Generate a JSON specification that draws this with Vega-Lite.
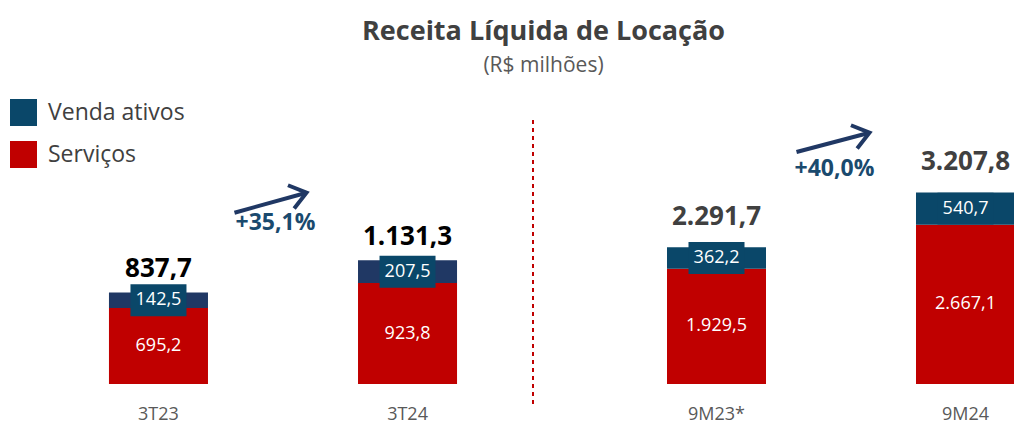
{
  "$schema": "https://vega.github.io/schema/vega-lite/v6.json",
  "padding": {"left": 10, "top": 18, "right": 0, "bottom": 0},
  "background": "white",
  "bounds": "flush",
  "title": {
    "text": "Receita Líquida de Locação",
    "subtitle": "(R$ milhões)",
    "fontSize": 27,
    "fontWeight": "bold",
    "color": "#404040",
    "subtitleFontSize": 21,
    "subtitleColor": "#595959",
    "subtitlePadding": 9,
    "anchor": "middle",
    "offset": 22,
    "dx": 31
  },
  "datasets": {
    "receita": [
      {"grupo": "3T", "periodo": "3T23", "serie": "Serviços", "valor": 695.2},
      {"grupo": "3T", "periodo": "3T23", "serie": "Venda ativos", "valor": 142.5},
      {"grupo": "3T", "periodo": "3T24", "serie": "Serviços", "valor": 923.8},
      {"grupo": "3T", "periodo": "3T24", "serie": "Venda ativos", "valor": 207.5},
      {"grupo": "9M", "periodo": "9M23*", "serie": "Serviços", "valor": 1929.5},
      {"grupo": "9M", "periodo": "9M23*", "serie": "Venda ativos", "valor": 362.2},
      {"grupo": "9M", "periodo": "9M24", "serie": "Serviços", "valor": 2667.1},
      {"grupo": "9M", "periodo": "9M24", "serie": "Venda ativos", "valor": 540.7}
    ],
    "variacao": [
      {"grupo": "3T", "texto": "+35,1%"},
      {"grupo": "9M", "texto": "+40,0%"}
    ]
  },
  "spacing": 134,
  "resolve": {"scale": {"color": "independent"}, "legend": {"color": "independent"}},
  "hconcat": [
    {
      "width": 500,
      "height": 283,
      "layer": [
        {
          "data": {"name": "receita"},
          "transform": [
            {"filter": "datum.grupo == '3T'"},
            {"stack": "valor", "groupby": ["periodo"], "sort": [{"field": "serie", "order": "ascending"}], "as": ["v0", "v1"]},
            {"calculate": "(datum.v0 + datum.v1) / 2", "as": "meio"},
            {"joinaggregate": [{"op": "sum", "field": "valor", "as": "total"}], "groupby": ["periodo"]}
          ],
          "encoding": {
            "x": {"field": "periodo", "type": "nominal", "scale": {"paddingInner": 0.6024, "paddingOuter": 0.305}, "axis": {"title": null, "labelAngle": 0, "domain": false, "ticks": false, "labelPadding": 21, "labelFontSize": 18, "labelColor": "#595959"}}
          },
          "layer": [
            {
              "mark": {"type": "bar"},
              "encoding": {
                "y": {"field": "v0", "type": "quantitative", "scale": {"domain": [0, 2589], "nice": false}, "axis": null},
                "y2": {"field": "v1"},
                "color": {"field": "serie", "type": "nominal", "scale": {"domain": ["Venda ativos", "Serviços"], "range": ["#203864", "#c00000"]}, "legend": null}
              }
            },
            {
              "transform": [{"filter": "datum.serie == 'Venda ativos'"}],
              "mark": {"type": "point", "shape": "M-1,-0.571L1,-0.571L1,0.571L-1,0.571Z", "filled": true, "opacity": 1, "color": "#0a4769", "size": 3136, "strokeWidth": 0},
              "encoding": {"y": {"field": "meio", "type": "quantitative"}}
            },
            {
              "mark": {"type": "text", "color": "white", "fontSize": 18, "baseline": "middle"},
              "encoding": {
                "y": {"field": "meio", "type": "quantitative"},
                "text": {"field": "valor", "type": "quantitative", "format": ",.1f"}
              }
            },
            {
              "transform": [{"filter": "datum.serie == 'Serviços'"}],
              "mark": {"type": "text", "color": "#000000", "fontSize": 26, "fontWeight": "bold", "baseline": "alphabetic", "dy": -15},
              "encoding": {
                "y": {"field": "total", "type": "quantitative"},
                "text": {"field": "total", "type": "quantitative", "format": ",.1f"}
              }
            }
          ]
        },
        {
          "data": {"name": "variacao"},
          "transform": [{"filter": "datum.grupo == '3T'"}],
          "layer": [
            {
              "mark": {"type": "rule", "color": "#c00000", "strokeWidth": 2, "strokeDash": [4, 4]},
              "encoding": {"x": {"value": "width"}, "y": {"datum": 2415}, "y2": {"datum": -201}}
            },
            {
              "mark": {"type": "rule", "color": "#203864", "strokeWidth": 4, "xOffset": 76, "x2Offset": -101},
              "encoding": {
                "x": {"datum": "3T23", "type": "nominal"},
                "x2": {"datum": "3T24"},
                "y": {"datum": 1567, "type": "quantitative"},
                "y2": {"datum": 1750}
              }
            },
            {
              "mark": {"type": "point", "shape": "M-1,-0.75L0,0L-1,0.75", "filled": false, "color": "#203864", "strokeWidth": 4, "size": 1024, "angle": -15, "opacity": 1, "xOffset": -101},
              "encoding": {
                "x": {"datum": "3T24", "type": "nominal"},
                "y": {"datum": 1750, "type": "quantitative"}
              }
            },
            {
              "mark": {"type": "text", "color": "#1a4a6e", "fontSize": 23, "fontWeight": "bold", "baseline": "middle", "xOffset": 117},
              "encoding": {
                "x": {"datum": "3T23", "type": "nominal"},
                "y": {"datum": 1473, "type": "quantitative"},
                "text": {"field": "texto", "type": "nominal"}
              }
            }
          ]
        }
      ]
    },
    {
      "width": 348,
      "height": 283,
      "layer": [
        {
          "data": {"name": "receita"},
          "transform": [
            {"filter": "datum.grupo == '9M'"},
            {"stack": "valor", "groupby": ["periodo"], "sort": [{"field": "serie", "order": "ascending"}], "as": ["v0", "v1"]},
            {"calculate": "(datum.v0 + datum.v1) / 2", "as": "meio"},
            {"joinaggregate": [{"op": "sum", "field": "valor", "as": "total"}], "groupby": ["periodo"]}
          ],
          "encoding": {
            "x": {"field": "periodo", "type": "nominal", "scale": {"paddingInner": 0.6024, "paddingOuter": 0}, "axis": {"title": null, "labelAngle": 0, "domain": false, "ticks": false, "labelPadding": 21, "labelFontSize": 18, "labelColor": "#595959"}}
          },
          "layer": [
            {
              "mark": {"type": "bar"},
              "encoding": {
                "y": {"field": "v0", "type": "quantitative", "scale": {"domain": [0, 4740], "nice": false}, "axis": null},
                "y2": {"field": "v1"},
                "color": {"field": "serie", "type": "nominal", "scale": {"domain": ["Venda ativos", "Serviços"], "range": ["#0a4769", "#c00000"]},
                  "legend": {"orient": "none", "legendX": -657, "legendY": -2, "title": null, "symbolType": "square", "symbolSize": 729, "symbolStrokeWidth": 0, "labelFontSize": 23, "labelColor": "#404040", "labelOffset": 11, "rowPadding": 15, "padding": 0}}
              }
            },
            {
              "transform": [{"filter": "datum.serie == 'Venda ativos'"}],
              "mark": {"type": "point", "shape": "M-1,-0.571L1,-0.571L1,0.571L-1,0.571Z", "filled": true, "opacity": 1, "color": "#0a4769", "size": 3136, "strokeWidth": 0},
              "encoding": {"y": {"field": "meio", "type": "quantitative"}}
            },
            {
              "mark": {"type": "text", "color": "white", "fontSize": 18, "baseline": "middle"},
              "encoding": {
                "y": {"field": "meio", "type": "quantitative"},
                "text": {"field": "valor", "type": "quantitative", "format": ",.1f"}
              }
            },
            {
              "transform": [{"filter": "datum.serie == 'Serviços'"}],
              "mark": {"type": "text", "color": "#404040", "fontSize": 26, "fontWeight": "bold", "baseline": "alphabetic", "dy": -22},
              "encoding": {
                "y": {"field": "total", "type": "quantitative"},
                "text": {"field": "total", "type": "quantitative", "format": ",.1f"}
              }
            }
          ]
        },
        {
          "data": {"name": "variacao"},
          "transform": [{"filter": "datum.grupo == '9M'"}],
          "layer": [
            {
              "mark": {"type": "rule", "color": "#203864", "strokeWidth": 4, "xOffset": 80, "x2Offset": -96},
              "encoding": {
                "x": {"datum": "9M23*", "type": "nominal"},
                "x2": {"datum": "9M24"},
                "y": {"datum": 3886, "type": "quantitative"},
                "y2": {"datum": 4209}
              }
            },
            {
              "mark": {"type": "point", "shape": "M-1,-0.75L0,0L-1,0.75", "filled": false, "color": "#203864", "strokeWidth": 4, "size": 1024, "angle": -15, "opacity": 1, "xOffset": -96},
              "encoding": {
                "x": {"datum": "9M24", "type": "nominal"},
                "y": {"datum": 4209, "type": "quantitative"}
              }
            },
            {
              "mark": {"type": "text", "color": "#1a4a6e", "fontSize": 23, "fontWeight": "bold", "baseline": "middle", "xOffset": 118},
              "encoding": {
                "x": {"datum": "9M23*", "type": "nominal"},
                "y": {"datum": 3601, "type": "quantitative"},
                "text": {"field": "texto", "type": "nominal"}
              }
            }
          ]
        }
      ]
    }
  ],
  "config": {
    "view": {"stroke": null},
    "font": "Open Sans",
    "locale": {"number": {"decimal": ",", "thousands": ".", "grouping": [3], "currency": ["R$", ""]}}
  }
}
